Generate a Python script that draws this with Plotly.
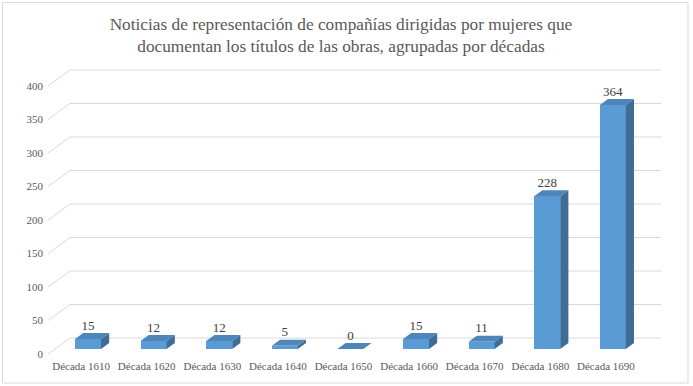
import plotly.graph_objects as go

# ---- data ----
categories = ["Década 1610", "Década 1620", "Década 1630", "Década 1640", "Década 1650",
              "Década 1660", "Década 1670", "Década 1680", "Década 1690"]
values = [15, 12, 12, 5, 0, 15, 11, 228, 364]
y_ticks = [0, 50, 100, 150, 200, 250, 300, 350, 400]
title_text = ("Noticias de representación de compañías dirigidas por mujeres que<br>"
              "documentan los títulos de las obras, agrupadas por décadas")

# ---- geometry / style ----
W, H = 693, 386
ML, MR, MT, MB = 44, 30, 60, 28
PX0, PX_PER_CAT = 88.0, 65.6      # pixel of first category centre, pixels per category
PY0, PY_PER_UNIT = 349.0, 0.67    # pixel of value 0 (bar front), pixels per unit
BAR_W = 0.396                     # category units
DX, DY = 8.2 / PX_PER_CAT, 6.0 / PY_PER_UNIT      # bar depth offset
FRONT_DX, FRONT_DY = -6.9 / PX_PER_CAT, -5.0 / PY_PER_UNIT   # floor front edge offset
BACK_DX, BACK_DY = 15.1 / PX_PER_CAT, 11.0 / PY_PER_UNIT     # back wall offset
GRID_RIGHT_PX = 661

C_FRONT = "#5B9BD5"
C_TOP = "#4E86BA"
C_SIDE = "#3F6D96"
C_GRID = "#D9D9D9"
C_TEXT = "#595959"
FONT = "Liberation Serif"

x_range = [(ML - PX0) / PX_PER_CAT, (W - MR - PX0) / PX_PER_CAT]
y_range = [(PY0 - (H - MB)) / PY_PER_UNIT, (PY0 - MT) / PY_PER_UNIT]

fig = go.Figure()

# gridlines in perspective (front-left diagonal then back wall), drawn below the bars
x_back_left = x_range[0] + (70 - ML) / PX_PER_CAT
x_front_left = x_back_left - (BACK_DX - FRONT_DX)
x_right = (GRID_RIGHT_PX - PX0) / PX_PER_CAT
shapes = []
for v in y_ticks:
    shapes.append(dict(
        type="path", xref="x", yref="y", layer="below",
        path=(f"M {x_front_left},{v + FRONT_DY} L {x_back_left},{v + BACK_DY} "
              f"L {x_right},{v + BACK_DY}"),
        line=dict(color=C_GRID, width=1)))

# chart border
shapes.append(dict(type="rect", xref="paper", yref="paper",
                   x0=(2.5 - ML) / (W - ML - MR), x1=(688 - ML) / (W - ML - MR),
                   y0=((H - MB) - 383) / (H - MT - MB), y1=((H - MB) - 2.5) / (H - MT - MB),
                   line=dict(color=C_GRID, width=1), fillcolor="rgba(0,0,0,0)", layer="below"))

xs = list(range(len(categories)))

# front faces
fig.add_trace(go.Bar(x=xs, y=values, width=BAR_W, marker=dict(color=C_FRONT, line=dict(width=0)),
                     showlegend=False, hoverinfo="skip"))

# side and top faces
for i, v in zip(xs, values):
    xl, xr = i - BAR_W / 2, i + BAR_W / 2
    fig.add_trace(go.Scatter(
        x=[xr, xr, xr + DX, xr + DX, xr], y=[0, v, v + DY, DY, 0],
        mode="lines", fill="toself", fillcolor=C_SIDE, line=dict(width=0, color=C_SIDE),
        hoverinfo="skip", showlegend=False))
    fig.add_trace(go.Scatter(
        x=[xl, xr, xr + DX, xl + DX, xl], y=[v, v, v + DY, v + DY, v],
        mode="lines", fill="toself", fillcolor=C_TOP, line=dict(width=0, color=C_TOP),
        hoverinfo="skip", showlegend=False))

# data labels
fig.add_trace(go.Scatter(
    x=xs, y=[v + DY for v in values], mode="text",
    text=[str(v) for v in values], textposition="top center",
    textfont=dict(family=FONT, size=13, color="#404040"),
    hoverinfo="skip", showlegend=False))

fig.update_layout(
    width=W, height=H,
    margin=dict(l=ML, r=MR, t=MT, b=MB),
    paper_bgcolor="white", plot_bgcolor="white",
    bargap=0,
    title=dict(text=title_text, x=0.492, xanchor="center",
               y=1 - 30 / H, yanchor="middle", yref="container",
               font=dict(family=FONT, size=17.3, color=C_TEXT)),
    xaxis=dict(range=x_range, showgrid=False, zeroline=False, showline=False,
               tickmode="array", tickvals=[i + FRONT_DX for i in xs], ticktext=categories,
               tickfont=dict(family=FONT, size=11, color=C_TEXT), ticks=""),
    yaxis=dict(range=y_range, showgrid=False, zeroline=False, showline=False,
               tickmode="array", tickvals=[v + FRONT_DY for v in y_ticks],
               ticktext=[str(v) for v in y_ticks],
               tickfont=dict(family=FONT, size=11, color=C_TEXT), ticks=""),
    shapes=shapes,
)

fig.write_html("out.html", config={"displayModeBar": False},
               post_script="document.body.style.margin='0';document.body.style.overflow='hidden';")
